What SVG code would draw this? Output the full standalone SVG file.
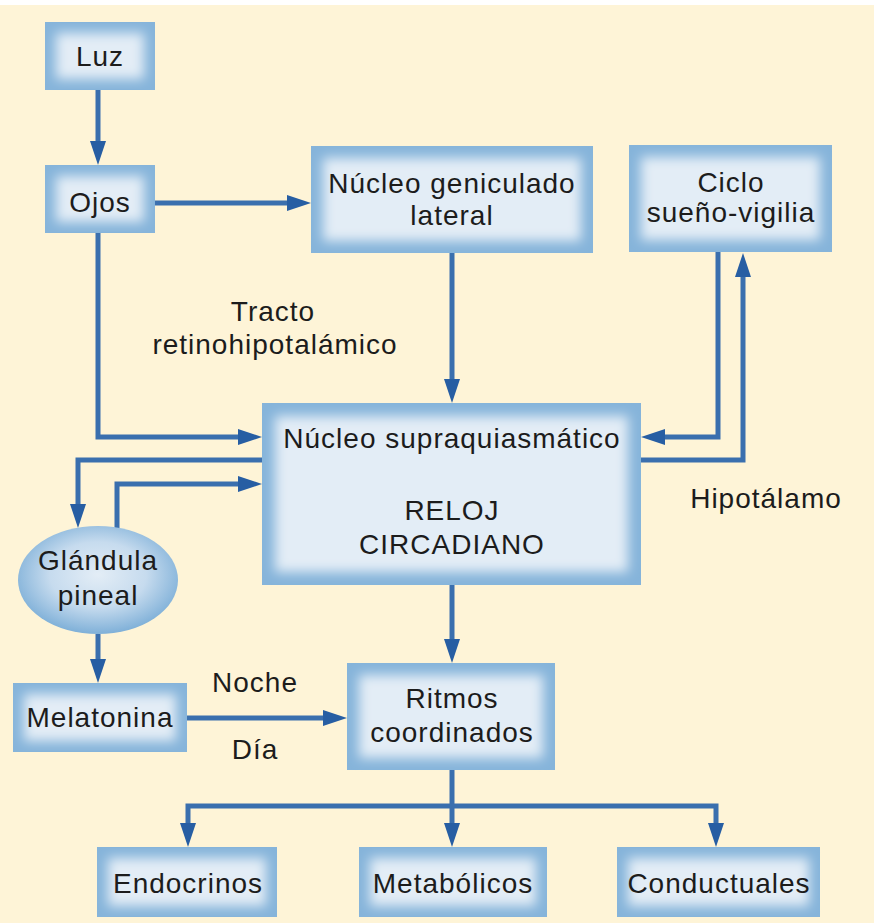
<svg xmlns="http://www.w3.org/2000/svg" width="876" height="923" viewBox="0 0 876 923">
<defs>
<style>
.t{font-family:"Liberation Sans",Arial,sans-serif;font-size:28px;letter-spacing:1px;fill:#1c1c1c;text-anchor:middle}
.edge{fill:#86b4da}
.core{fill:#e3edf6;filter:url(#soft)}
.c{fill:none;stroke:#3a6fae;stroke-width:5;marker-end:url(#ah)}
.cl{fill:none;stroke:#3a6fae;stroke-width:5}
</style>
<filter id="soft" x="-20%" y="-20%" width="140%" height="140%"><feGaussianBlur stdDeviation="6"/></filter>
<radialGradient id="eg" cx="50%" cy="45%" r="55%">
<stop offset="0" stop-color="#e3edf6"/>
<stop offset="0.55" stop-color="#c6dbee"/>
<stop offset="1" stop-color="#7fb0d8"/>
</radialGradient>
<marker id="ah" viewBox="0 0 24 16" refX="2" refY="8" markerWidth="24" markerHeight="16" markerUnits="userSpaceOnUse" orient="auto">
<path d="M0,0 L24,8 L0,16 z" fill="#275ea3"/>
</marker>
</defs>
<rect x="0" y="0" width="876" height="923" fill="#ffffff"/>
<rect x="0" y="5" width="874" height="918" fill="#fef4d7"/>

<g id="connectors">
<path class="c" d="M98,90 V143"/>
<path class="c" d="M155,203 H289"/>
<path class="c" d="M98,233 V437 H240"/>
<path class="c" d="M452,253 V381"/>
<path class="c" d="M718,252 V437 H663"/>
<path class="c" d="M641,460 H743 V275"/>
<path class="c" d="M262,460 H78 V506"/>
<path class="c" d="M117,528 V484 H240"/>
<path class="c" d="M98,634 V661"/>
<path class="c" d="M187,718 H325"/>
<path class="c" d="M452,585 V641"/>
<path class="c" d="M452,770 V825"/>
<path class="c" d="M452,806 H188 V825"/>
<path class="c" d="M452,806 H716 V825"/>
</g>

<g id="luz"><rect class="edge" x="45" y="22" width="110" height="68"/><rect class="core" x="56" y="33" width="88" height="46"/><text class="t" x="100" y="66">Luz</text></g>
<g id="ojos"><rect class="edge" x="45" y="165" width="110" height="68"/><rect class="core" x="56" y="176" width="88" height="46"/><text class="t" x="100" y="212">Ojos</text></g>
<g id="geniculado"><rect class="edge" x="311" y="146" width="282" height="107"/><rect class="core" x="323" y="158" width="258" height="83"/><text class="t" x="452" y="193">Núcleo geniculado</text><text class="t" x="452" y="225">lateral</text></g>
<g id="ciclo"><rect class="edge" x="629" y="145" width="203" height="107"/><rect class="core" x="641" y="157" width="179" height="83"/><text class="t" x="731" y="192">Ciclo</text><text class="t" x="731" y="222">sueño-vigilia</text></g>
<g id="tracto"><text class="t" x="273" y="321">Tracto</text><text class="t" x="275" y="354">retinohipotalámico</text></g>
<g id="scn"><rect class="edge" x="262" y="403" width="379" height="182"/><rect class="core" x="275" y="416" width="353" height="156"/><text class="t" x="452" y="448">Núcleo supraquiasmático</text><text class="t" x="452" y="520">RELOJ</text><text class="t" x="452" y="554">CIRCADIANO</text></g>
<g id="hipotalamo"><text class="t" x="766" y="508">Hipotálamo</text></g>
<g id="pineal"><ellipse cx="98" cy="580" rx="80" ry="54" fill="url(#eg)"/><text class="t" x="98" y="570">Glándula</text><text class="t" x="98" y="605">pineal</text></g>
<g id="melatonina"><rect class="edge" x="13" y="683" width="174" height="69"/><rect class="core" x="24" y="694" width="152" height="47"/><text class="t" x="100" y="727">Melatonina</text></g>
<g id="noche"><text class="t" x="255" y="692">Noche</text></g>
<g id="dia"><text class="t" x="255" y="759">Día</text></g>
<g id="ritmos"><rect class="edge" x="347" y="663" width="208" height="107"/><rect class="core" x="359" y="675" width="184" height="83"/><text class="t" x="452" y="708">Ritmos</text><text class="t" x="452" y="742">coordinados</text></g>
<g id="endocrinos"><rect class="edge" x="97" y="847" width="180" height="70"/><rect class="core" x="108" y="858" width="158" height="48"/><text class="t" x="188" y="893">Endocrinos</text></g>
<g id="metabolicos"><rect class="edge" x="359" y="847" width="188" height="70"/><rect class="core" x="370" y="858" width="166" height="48"/><text class="t" x="453" y="893">Metabólicos</text></g>
<g id="conductuales"><rect class="edge" x="617" y="847" width="203" height="70"/><rect class="core" x="628" y="858" width="181" height="48"/><text class="t" x="719" y="893">Conductuales</text></g>
</svg>
